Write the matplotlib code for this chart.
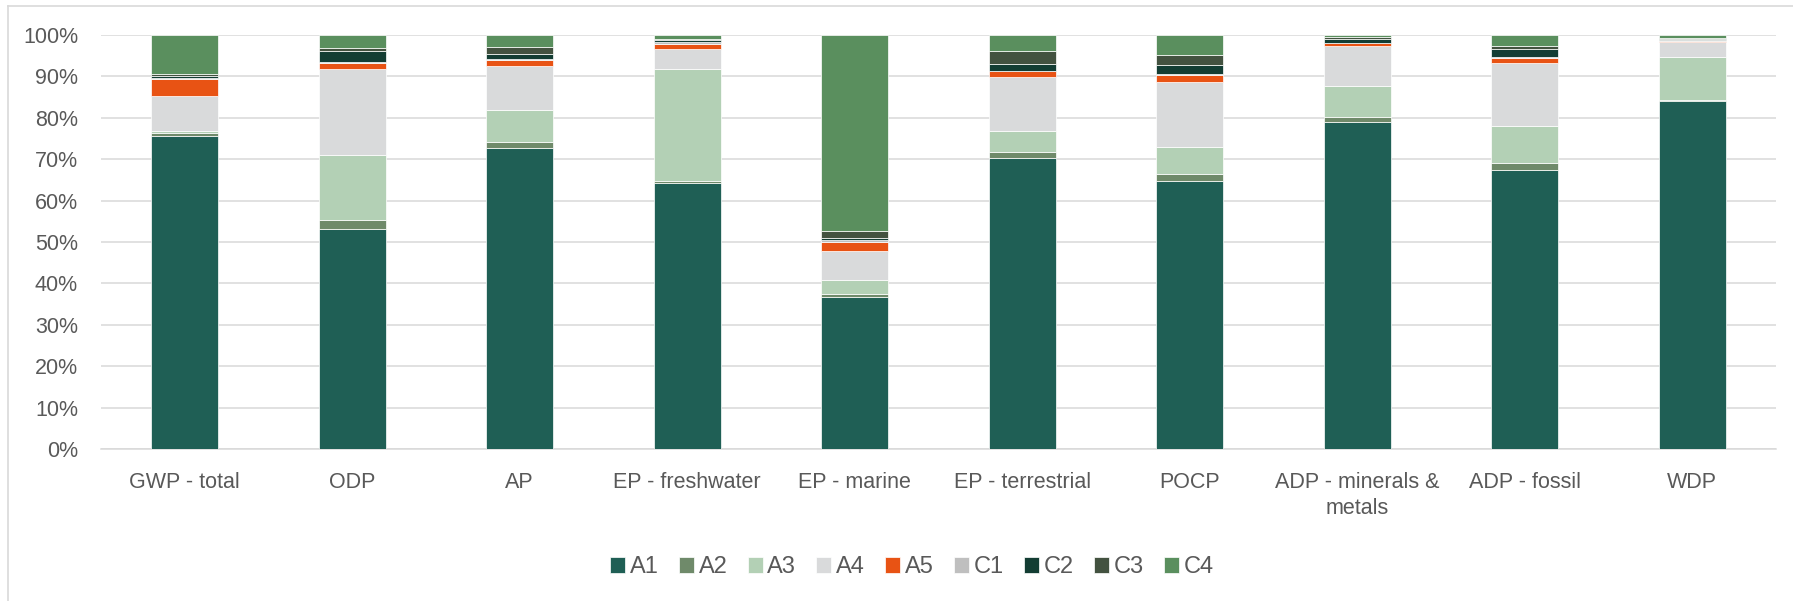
import numpy as np
import matplotlib
matplotlib.use("Agg")
import matplotlib.pyplot as plt
from matplotlib.lines import Line2D

categories = ["GWP - total", "ODP", "AP", "EP - freshwater", "EP - marine",
              "EP - terrestrial", "POCP", "ADP - minerals &\nmetals", "ADP - fossil", "WDP"]
stages = ["A1", "A2", "A3", "A4", "A5", "C1", "C2", "C3", "C4"]

# share of each stage per indicator, in %
a1 = [75.5, 53.1, 72.8, 64.2, 36.8, 70.2, 64.7, 78.9, 67.3, 84.0]
a2 = [0.8, 2.2, 1.4, 0.65, 0.7, 1.5, 1.8, 1.4, 1.8, 0.4]
a3 = [0.6, 15.6, 7.8, 27.05, 3.4, 5.2, 6.4, 7.5, 9.0, 10.2]
a4 = [8.3, 21.0, 10.6, 4.6, 7.0, 12.9, 15.8, 9.6, 15.2, 3.8]
a5 = [4.2, 1.3, 1.3, 1.4, 2.2, 1.4, 1.7, 0.6, 1.1, 0.2]
c1 = [0.2, 0.2, 0.2, 0.5, 0.3, 0.2, 0.25, 0.1, 0.2, 0.1]
c2 = [0.6, 2.7, 1.3, 0.3, 0.5, 1.7, 2.05, 1.0, 1.9, 0.4]
c3 = [0.3, 0.8, 1.6, 0.25, 1.8, 2.95, 2.5, 0.3, 0.8, 0.25]
c4 = [9.5, 3.1, 3.0, 1.05, 47.3, 3.95, 4.8, 0.6, 2.7, 0.65]

colors = ["#1F5F55", "#6F8A6A", "#B3D0B5", "#D9DADB", "#E85314",
          "#BFBFBF", "#133D33", "#435240", "#5A8F5E"]

values = np.array([a1, a2, a3, a4, a5, c1, c2, c3, c4], dtype=float)
values = values / values.sum(axis=0) * 100

plt.rcParams["font.family"] = ["Liberation Sans", "DejaVu Sans"]
textColor = "#595959"
gridColor = "#D9D9D9"

fig = plt.figure(figsize=(17.93, 6.01), dpi=100)
ax = fig.add_axes([101 / 1793, 1 - 449 / 601, 1675 / 1793, 414 / 601])

x = np.arange(len(categories))
bottom = np.zeros(len(categories))
for i, name in enumerate(stages):
    ax.bar(x, values[i], 0.4, bottom=bottom, color=colors[i], label=name,
           edgecolor="white", linewidth=0.5, zorder=3)
    bottom += values[i]

ax.set_xlim(-0.5, len(categories) - 0.5)
ax.set_ylim(0, 100)
ax.set_yticks(np.arange(0, 101, 10))
ax.set_yticklabels([f"{v}%" for v in range(0, 101, 10)])
ax.set_xticks(x)
ax.set_xticklabels(categories, linespacing=1.3)
ax.tick_params(axis="both", length=0, labelsize=15.5, labelcolor=textColor)
ax.tick_params(axis="y", pad=16.5)
ax.tick_params(axis="x", pad=16.5)
ax.yaxis.grid(True, color=gridColor, linewidth=1.1, zorder=0)
ax.set_axisbelow(True)
for side in ["top", "right", "left"]:
    ax.spines[side].set_visible(False)
ax.spines["bottom"].set_color(gridColor)
ax.spines["bottom"].set_linewidth(1.1)

fig.legend(loc="center", bbox_to_anchor=(912 / 1793, 1 - 567 / 601), ncol=9,
           frameon=False, fontsize=17, labelcolor=textColor,
           handlelength=0.64, handleheight=0.64, handletextpad=0.2, columnspacing=0.85)

# chart area frame (only top and left are inside the image)
fig.add_artist(Line2D([8 / 1793, 8 / 1793], [0, 1 - 6 / 601], transform=fig.transFigure,
                      color=gridColor, linewidth=1.2))
fig.add_artist(Line2D([8 / 1793, 1], [1 - 6 / 601, 1 - 6 / 601], transform=fig.transFigure,
                      color=gridColor, linewidth=1.2))

fig.savefig("out.png", dpi=100)
